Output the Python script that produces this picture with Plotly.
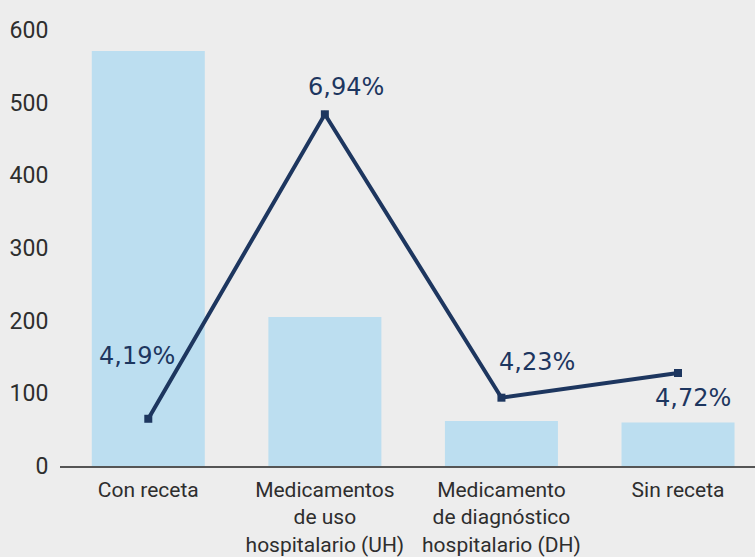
import plotly.graph_objects as go

categories = ["Con receta", "Medicamentos<br>de uso<br>hospitalario (UH)",
              "Medicamento<br>de diagnóstico<br>hospitalario (DH)", "Sin receta"]
bar_values = [571, 205, 62, 60]
line_values = [65, 484, 94, 128]
line_labels = ["4,19%", "6,94%", "4,23%", "4,72%"]
label_shifts = [(-11, 63), (21, 27), (36, 36), (15, -25)]
tick_values = [0, 100, 200, 300, 400, 500, 600]

cond = "Roboto, Liberation Sans, sans-serif"
navy = "#1d365f"

fig = go.Figure()
fig.add_trace(go.Bar(x=categories, y=bar_values, marker=dict(color="#bcdef0", line=dict(width=0)),
                     width=0.64, hoverinfo="skip"))
fig.add_trace(go.Scatter(x=categories, y=line_values, mode="lines+markers",
                         line=dict(color=navy, width=4),
                         marker=dict(symbol="square", size=8, color=navy)))

for c, v, t, (dx, dy) in zip(categories, line_values, line_labels, label_shifts):
    fig.add_annotation(x=c, y=v, text=t, showarrow=False, xshift=dx, yshift=dy,
                       font=dict(family="DejaVu Sans, sans-serif", size=24, color=navy))

fig.update_layout(
    width=755, height=557,
    margin=dict(l=60, r=0, t=30, b=91),
    paper_bgcolor="#ededed", plot_bgcolor="#ededed",
    showlegend=False,
    bargap=0.36,
)
fig.update_xaxes(range=[-0.5, 3.436], showline=True, linecolor="#555555", linewidth=1.5,
                 showgrid=False, ticks="outside", ticklen=4, tickcolor="rgba(0,0,0,0)",
                 tickfont=dict(family=cond, size=21, color="#2e2e2e"),
                 zeroline=False)
fig.update_yaxes(range=[0, 600], tickvals=tick_values, showgrid=False, zeroline=False,
                 showline=False, ticks="outside", ticklen=6, tickcolor="rgba(0,0,0,0)",
                 tickfont=dict(family=cond, size=23, color="#2e2e2e"))

fig.write_html("out.html", config={"displayModeBar": False},
               post_script="document.body.style.margin='0';document.body.style.background='#ededed';")
